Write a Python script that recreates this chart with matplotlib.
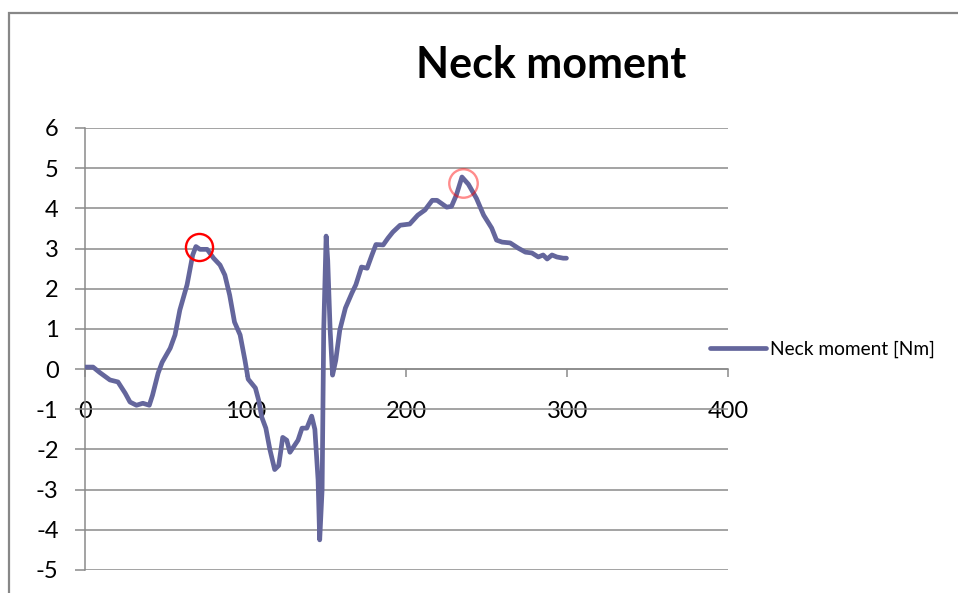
import matplotlib
matplotlib.use("Agg")
import matplotlib.pyplot as plt
from matplotlib.patches import Rectangle

plt.rcParams['font.family'] = ['Lato', 'DejaVu Sans']
plt.rcParams['axes.unicode_minus'] = False

# Sample time index and neck moment [Nm]
time = [0, 5, 9, 15.5, 20.5, 25, 28, 32, 36, 40, 42, 45.5, 48, 53, 56, 59,
        63.5, 67, 69, 71.5, 76, 80, 84, 87, 90, 93, 96.5, 99.5, 101.5, 106,
        108, 110, 112.5, 115, 118, 120.5, 123, 125.5, 127.5, 130, 132.5, 135,
        138, 141, 143, 145, 146, 147.5, 148.5, 150, 151, 152.5, 154, 156,
        158.5, 162, 166, 168.5, 172, 175.5, 178.5, 181, 185.5, 188.5, 191.5,
        196, 202, 207, 211.5, 216, 219, 225, 228, 231, 234.5, 238.5, 243.5,
        248, 253, 256, 259.5, 264.5, 269.5, 274, 278, 282, 285, 287.5, 290.5,
        293.5, 297.5, 299.5]
moment = [0.05, 0.05, -0.08, -0.27, -0.32, -0.6, -0.82, -0.9, -0.85, -0.9,
          -0.65, -0.1, 0.17, 0.52, 0.85, 1.47, 2.1, 2.84, 3.05, 2.98, 2.98,
          2.76, 2.59, 2.34, 1.84, 1.17, 0.85, 0.22, -0.25, -0.47, -0.77, -1.2,
          -1.47, -2.0, -2.5, -2.4, -1.7, -1.77, -2.07, -1.92, -1.77, -1.47,
          -1.47, -1.17, -1.5, -2.76, -4.25, -3.0, 0.97, 3.31, 2.7, 0.97, -0.15,
          0.22, 0.97, 1.52, 1.89, 2.1, 2.54, 2.51, 2.84, 3.1, 3.09, 3.26, 3.41,
          3.58, 3.61, 3.83, 3.96, 4.2, 4.2, 4.03, 4.05, 4.33, 4.78, 4.6, 4.25,
          3.83, 3.51, 3.21, 3.16, 3.14, 3.01, 2.91, 2.89, 2.79, 2.84, 2.74,
          2.84, 2.79, 2.76, 2.76]

# Highlighted peaks
peak_x = [71, 235]
peak_y = [3.04, 4.62]

x_ticks = [0, 100, 200, 300, 400]
y_ticks = [-5, -4, -3, -2, -1, 0, 1, 2, 3, 4, 5, 6]

line_color = '#64669c'
grid_color = '#8a8a8a'

fig = plt.figure(figsize=(9.58, 5.93), dpi=100)
fig.patches.append(Rectangle((9 / 958, -0.05), 1.05, 1 - 13 / 593 + 0.05,
                             transform=fig.transFigure, fill=False,
                             edgecolor='#878787', lw=1.6))

ax = fig.add_axes([85 / 958, 1 - 570 / 593, 643 / 958, 442 / 593])
ax.set_xlim(0, 400)
ax.set_ylim(-5, 6)
ax.set_xticks(x_ticks)
ax.set_yticks(y_ticks)

ax.spines['top'].set_visible(False)
ax.spines['right'].set_visible(False)
ax.spines['bottom'].set_position(('data', 0))
for s in ('left', 'bottom'):
    ax.spines[s].set_color(grid_color)
    ax.spines[s].set_linewidth(1.1)

ax.yaxis.grid(True, color=grid_color, lw=1.1)
ax.set_axisbelow(True)
ax.tick_params(axis='y', direction='out', length=7, width=1.1,
               color=grid_color, labelsize=17, pad=12)
ax.tick_params(axis='x', direction='out', length=6, width=1.1,
               color=grid_color, labelsize=17, pad=17)
for lbl in ax.get_xticklabels():
    lbl.set_zorder(5)

ax.plot(time, moment, color=line_color, lw=3.4, solid_capstyle='round',
        solid_joinstyle='round', label='Neck moment [Nm]', zorder=3)

ax.plot(peak_x[:1], peak_y[:1], 'o', ms=19.5, mfc='none', mec='#ff0000',
        mew=1.7, zorder=4)
ax.plot(peak_x[1:], peak_y[1:], 'o', ms=20.5, mfc='none', mec='#ff0000',
        mew=1.7, alpha=0.45, zorder=4)

fig.text(551 / 958, 1 - 65 / 593, 'Neck moment', fontsize=31,
         fontweight='bold', ha='center', va='center')

ax.legend(loc='center left', bbox_to_anchor=(710 / 958, 1 - 349 / 593),
          bbox_transform=fig.transFigure, frameon=False, fontsize=13.8,
          handlelength=2.9, handletextpad=0.25, borderpad=0, borderaxespad=0)

fig.savefig('out.png', dpi=100)
